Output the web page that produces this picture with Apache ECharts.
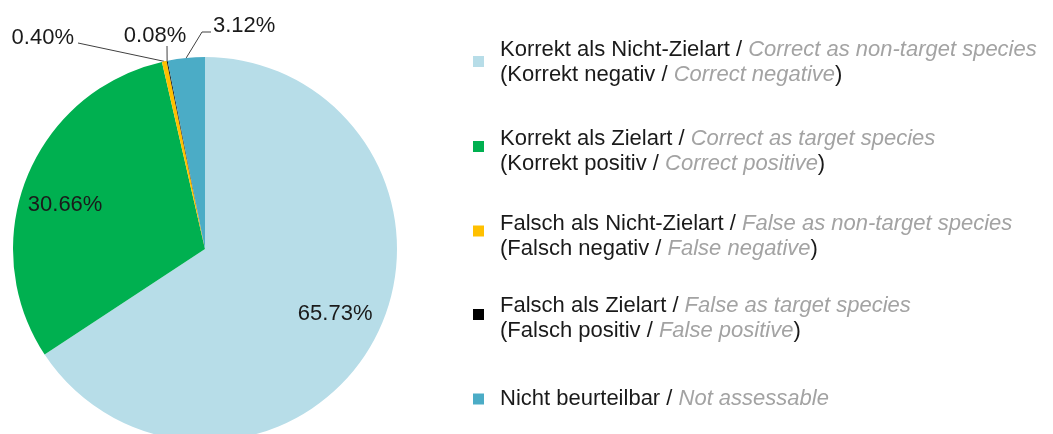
<!DOCTYPE html>
<html>
<head>
<meta charset="utf-8">
<script src="https://cdn.jsdelivr.net/npm/echarts@6/dist/echarts.min.js"></script>
<style>
  html, body { margin: 0; padding: 0; background: #fff; }
  #chart { width: 1053px; height: 434px; }
</style>
</head>
<body>
<div id="chart"></div>
<script>
  // Daten (Prozent)
  var values = [65.73, 30.66, 0.40, 0.08, 3.12]
  var colors = ['#b7dde8', '#00b050', '#ffc000', '#000000', '#4bacc6']
  var deMain = ['Korrekt als Nicht-Zielart', 'Korrekt als Zielart', 'Falsch als Nicht-Zielart', 'Falsch als Zielart', 'Nicht beurteilbar']
  var enMain = ['Correct as non-target species', 'Correct as target species', 'False as non-target species', 'False as target species', 'Not assessable']
  var deSub = ['Korrekt negativ', 'Korrekt positiv', 'Falsch negativ', 'Falsch positiv', '']
  var enSub = ['Correct negative', 'Correct positive', 'False negative', 'False positive', '']

  var FONT = '"Liberation Sans", Arial, sans-serif'
  var FS = 22
  var LINE_H = 25
  // Legendenlayout: oberer Rand + Innenabstand oben (Marker sitzt etwas höher als Textmitte)
  var legendTops = [39, 128, 213, 295, 388]
  var legendPadTop = [2, 10, 11, 8, 0]

  // Label-Positionen der Tortenstücke
  var labelPos = [
    { dx: 43, dy: 18 },
    { dx: -48, dy: -7 },
    { x: 74, y: 38, align: 'right', line: [[78, 43]] },
    { x: 155, y: 36, align: 'center', line: [[167, 46]] },
    { x: 213, y: 26, align: 'left', line: [[202, 32], [211, 32]] }
  ]

  function legendText (name) {
    var i = deMain.indexOf(name)
    var s = '{de|' + deMain[i] + ' / }{en|' + enMain[i] + '}'
    if (deSub[i]) s += '\n{de|(' + deSub[i] + ' / }{en|' + enSub[i] + '}{de|)}'
    return s
  }

  var legends = deMain.map(function (n, i) {
    return {
      data: [n],
      left: 473,
      top: legendTops[i],
      padding: 0,
      icon: 'rect',
      itemWidth: 11,
      itemHeight: 11,
      selectedMode: false,
      formatter: legendText,
      textStyle: {
        padding: [legendPadTop[i], 0, 0, 11],
        rich: {
          de: { color: '#1a1a1a', fontSize: FS, lineHeight: LINE_H, fontFamily: FONT },
          en: { color: '#a3a3a3', fontSize: FS, lineHeight: LINE_H, fontStyle: 'italic', fontFamily: FONT }
        }
      }
    }
  })

  var chart = echarts.init(document.getElementById('chart'))
  chart.setOption({
    animation: false,
    color: colors,
    legend: legends,
    series: [{
      type: 'pie',
      center: [205, 249],
      radius: 192,
      startAngle: 90,
      clockwise: true,
      avoidLabelOverlap: false,
      minAngle: 0,
      itemStyle: { borderWidth: 0 },
      label: {
        fontSize: FS,
        fontFamily: FONT,
        color: '#1a1a1a',
        formatter: function (p) { return p.value.toFixed(2) + '%' }
      },
      labelLine: { lineStyle: { color: '#404040', width: 1 } },
      labelLayout: function (params) {
        var lp = labelPos[params.dataIndex]
        if (lp.dx !== undefined) return { dx: lp.dx, dy: lp.dy }
        var p0 = params.labelLinePoints ? params.labelLinePoints[0] : null
        return {
          x: lp.x,
          y: lp.y,
          align: lp.align,
          verticalAlign: 'middle',
          labelLinePoints: p0 ? [p0].concat(lp.line) : undefined
        }
      },
      data: values.map(function (v, i) {
        var inside = i < 2
        return {
          value: v,
          name: deMain[i],
          label: { position: inside ? 'inside' : 'outside' },
          labelLine: { show: !inside, length: 10, length2: 10 }
        }
      })
    }]
  })
</script>
</body>
</html>
